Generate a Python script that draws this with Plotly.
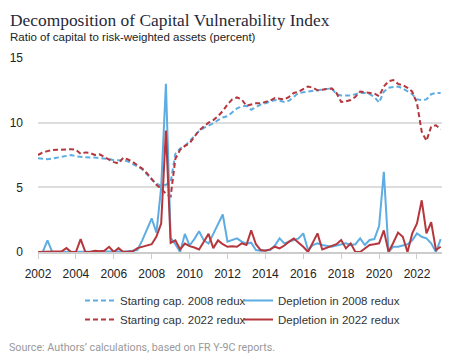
import plotly.graph_objects as go

# Quarterly observations, 2002Q1 .. 2023Q2 (decimal years)
years = list(range(2002, 2024))
quarters = [y + q / 4 for y in years for q in range(4)][:86]
x_ticks = list(range(2002, 2023, 2))

start_cap_2008 = [
    7.25, 7.2, 7.18, 7.22,   # 2002
    7.28, 7.33, 7.4, 7.5,    # 2003
    7.4, 7.35, 7.3, 7.3,     # 2004
    7.3, 7.28, 7.25, 7.2,    # 2005
    7.1, 7.1, 7.1, 7.0,      # 2006
    6.8, 6.6, 6.4, 6.0,      # 2007
    5.6, 5.3, 5.1, 5.2,      # 2008
    5.4, 7.6, 8.0, 8.2,      # 2009
    8.6, 9.0, 9.35, 9.6,     # 2010
    9.75, 9.95, 10.2, 10.4,  # 2011
    10.5, 10.8, 11.1, 11.25, # 2012
    11.3, 11.0, 11.2, 11.4,  # 2013
    11.5, 11.6, 11.75, 11.7, # 2014
    11.6, 11.7, 12.0, 12.3,  # 2015
    12.35, 12.4, 12.5, 12.55,# 2016
    12.6, 12.65, 12.66, 12.2,# 2017
    12.1, 12.1, 12.1, 12.2,  # 2018
    12.3, 12.3, 12.2, 12.0,  # 2019
    11.55, 12.4, 12.7, 12.75,# 2020
    12.8, 12.65, 12.4, 12.2, # 2021
    11.8, 11.75, 11.8, 12.2, # 2022
    12.3, 12.3,              # 2023
]

start_cap_2022 = [
    7.5, 7.7, 7.8, 7.88,     # 2002
    7.9, 7.93, 7.94, 7.95,   # 2003
    7.9, 7.6, 7.7, 7.65,     # 2004
    7.5, 7.55, 7.35, 7.15,   # 2005
    6.95, 6.85, 7.3, 7.15,   # 2006
    6.96, 6.7, 6.45, 6.1,    # 2007
    5.6, 5.2, 4.9, 4.5,      # 2008
    4.3, 7.2, 7.9, 8.2,      # 2009
    8.4, 8.9, 9.4, 9.7,      # 2010
    10.0, 10.2, 10.5, 10.9,  # 2011
    11.4, 11.8, 11.95, 11.8, # 2012
    11.3, 11.4, 11.5, 11.5,  # 2013
    11.6, 11.7, 11.9, 11.85, # 2014
    11.8, 12.0, 12.3, 12.4,  # 2015
    12.6, 12.8, 12.7, 12.5,  # 2016
    12.55, 12.6, 12.65, 12.3,# 2017
    11.6, 11.65, 11.75, 12.0,# 2018
    12.4, 12.35, 12.3, 12.25,# 2019
    12.05, 12.8, 13.2, 13.3, # 2020
    13.0, 12.9, 12.7, 12.4,  # 2021
    11.5, 9.3, 8.6, 9.7,     # 2022
    9.8, 9.5,                # 2023
]

depletion_2008 = [
    0, 0, 0.9, 0,            # 2002
    0, 0, 0, 0,              # 2003
    0, 0, 0, 0,              # 2004
    0, 0, 0, 0,              # 2005
    0, 0, 0, 0.05,           # 2006
    0.1, 0.15, 0.9, 1.8,     # 2007
    2.6, 1.5, 5.0, 13.0,     # 2008
    1.1, 0.6, 0.0, 1.4,      # 2009
    0.5, 1.0, 1.6, 0.9,      # 2010
    0.65, 1.4, 2.1, 2.9,     # 2011
    0.8, 0.95, 1.05, 0.8,    # 2012
    0.65, 0.72, 0.15, 0.1,   # 2013
    0.1, 0.15, 0.5, 1.05,    # 2014
    0.67, 0.8, 0.93, 1.05,   # 2015
    1.44, 0.15, 0.54, 0.67,  # 2016
    0.54, 0.45, 0.41, 0.5,   # 2017
    0.6, 0.67, 0.55, 0.6,    # 2018
    1.05, 0.54, 0.93, 1.0,   # 2019
    2.0, 6.2, 0.0, 0.41,     # 2020
    0.41, 0.5, 0.6, 0.9,     # 2021
    1.44, 1.18, 1.05, 0.67,  # 2022
    0.0, 1.0,                # 2023
]

depletion_2022 = [
    0, 0, 0, 0,              # 2002
    0, 0.05, 0.3, 0,         # 2003
    0, 1.0, 0, 0,            # 2004
    0.1, 0.05, 0.1, 0.4,     # 2005
    0, 0.3, 0, 0,            # 2006
    0.05, 0.3, 0.4, 0.45,    # 2007
    0.6, 1.2, 2.2, 9.4,      # 2008
    0.7, 0.9, 0.2, 0.65,     # 2009
    0.45, 0.35, 0.2, 0.8,    # 2010
    1.4, 0.3, 0.9, 0.6,      # 2011
    0.4, 0.45, 0.41, 0.67,   # 2012
    0.54, 1.67, 0.6, 0.15,   # 2013
    0.1, 0.2, 0.41, 0.28,    # 2014
    0.5, 0.8, 1.05, 0.72,    # 2015
    0.4, 0.0, 0.7, 1.44,     # 2016
    0.2, 0.35, 0.5, 0.6,     # 2017
    0.93, 0.28, 0.67, 0.0,   # 2018
    0.0, 0.3, 0.54, 0.6,     # 2019
    0.67, 1.67, 0.0, 0.72,   # 2020
    1.5, 1.18, 0.0, 1.44,    # 2021
    2.2, 4.0, 1.44, 2.3,     # 2022
    0.15, 0.41,              # 2023
]

BLUE = "#5DADE2"
RED = "#B5373D"

fig = go.Figure()
fig.add_trace(go.Scatter(x=quarters, y=start_cap_2008, mode="lines", name="Starting cap. 2008 redux",
                         line=dict(color=BLUE, width=2, dash="5px,3px"), legend="legend"))
fig.add_trace(go.Scatter(x=quarters, y=start_cap_2022, mode="lines", name="Starting cap. 2022 redux",
                         line=dict(color=RED, width=2, dash="5px,3px"), legend="legend"))
fig.add_trace(go.Scatter(x=quarters, y=depletion_2008, mode="lines", name="Depletion in 2008 redux",
                         line=dict(color=BLUE, width=2), legend="legend2"))
fig.add_trace(go.Scatter(x=quarters, y=depletion_2022, mode="lines", name="Depletion in 2022 redux",
                         line=dict(color=RED, width=2), legend="legend2"))

# The page has an 8px body margin, so figure coords = screen coords - 8.
L, T, PW, PH = 30, 50, 404, 194
legend_common = dict(orientation="v", xanchor="left", yanchor="top",
                     font=dict(family="Liberation Sans, Arial, sans-serif", size=11.5, color="#333"),
                     itemwidth=30, tracegroupgap=0, bgcolor="rgba(0,0,0,0)")

def px_x(x):
    return (x - L) / PW

def px_y(y):
    return (T + PH - y) / PH

fig.update_layout(
    width=457, height=360,
    margin=dict(l=L, r=457 - L - PW, t=T, b=360 - T - PH, autoexpand=False),
    paper_bgcolor="white", plot_bgcolor="white",
    font=dict(family="Liberation Sans, Arial, sans-serif", color="#222"),
    legend=dict(x=px_x(72), y=px_y(278), **legend_common),
    legend2=dict(x=px_x(230), y=px_y(278), **legend_common),
    xaxis=dict(range=[2002, 2023.32], tickvals=x_ticks, ticktext=[str(v) for v in x_ticks],
               showgrid=False, zeroline=False,
               showline=True, linecolor="#cccccc", linewidth=2,
               ticks="outside", ticklen=5, tickcolor="#cccccc", tickwidth=1,
               ticklabelstandoff=5,
               tickfont=dict(size=12, color="#222")),
    yaxis=dict(range=[0, 15], tickvals=[0, 5, 10, 15], showgrid=True, gridcolor="#dddddd", gridwidth=2,
               zeroline=False, showline=False, ticks="", ticklabelstandoff=14,
               tickfont=dict(size=12, color="#222")),
    annotations=[
        dict(text="Decomposition of Capital Vulnerability Index", xref="paper", yref="paper",
             x=px_x(0), y=px_y(0), xanchor="left", yanchor="top", showarrow=False,
             font=dict(family="Liberation Serif, Georgia, serif", size=17.4, color="#1f2a3a")),
        dict(text="Ratio of capital to risk-weighted assets (percent)", xref="paper", yref="paper",
             x=px_x(0), y=px_y(29), xanchor="left", yanchor="middle", showarrow=False,
             font=dict(family="Liberation Sans, Arial, sans-serif", size=11.5, color="#222")),
        dict(text="Source: Authors\u2019 calculations, based on FR Y-9C reports.", xref="paper", yref="paper",
             x=px_x(-1), y=px_y(339), xanchor="left", yanchor="middle", showarrow=False,
             font=dict(family="Roboto, sans-serif", size=10.7, color="#999999")),
    ],
)

fig.write_html("out.html")
